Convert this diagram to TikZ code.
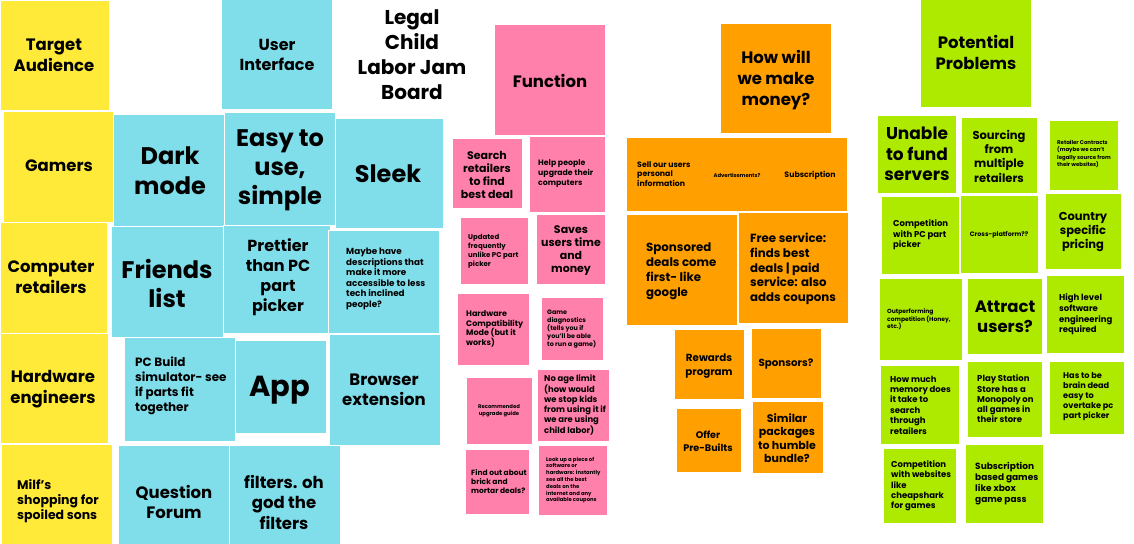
\documentclass[tikz,border=0pt]{standalone}
\usepackage{fontspec}
\setmainfont{Poppins}
\newcommand\fs[2]{\fontsize{#1}{#2}\selectfont\bfseries}
\definecolor{yel}{HTML}{FFEA3A}
\definecolor{cya}{HTML}{80DEEA}
\definecolor{pnk}{HTML}{FF80AB}
\definecolor{org}{HTML}{FF9F00}
\definecolor{grn}{HTML}{AEEA00}
\tikzset{
  sticky/.style={draw=white, line width=0.7pt},
  ctext/.style={inner sep=0pt, align=center, text=black},
  ltext/.style={inner sep=0pt, align=left, anchor=west, text=black}
}
\begin{document}
\begin{tikzpicture}[x=1pt,y=-1pt]
\useasboundingbox (0,0) rectangle (1134,543);
\fill[white] (0,0) rectangle (1134,543);

% ---- audience column
\filldraw[sticky,fill=yel] (0,0) rectangle (109,110);
\filldraw[sticky,fill=yel] (3,111) rectangle (113,222);
\filldraw[sticky,fill=yel] (0,222) rectangle (107,333);
\filldraw[sticky,fill=yel] (0,333) rectangle (108,443);
\filldraw[sticky,fill=yel] (1,444) rectangle (112,545);
\node[ctext,font=\fs{16.5}{21}] (ta) at (54,55) {Target\\Audience};
\node[ctext,font=\fs{16.5}{21}] (gm) at (59,166) {Gamers};
\node[ctext,font=\fs{16.5}{21}] (cr) at (51,277) {Computer\\retailers};
\node[ctext,font=\fs{16.5}{21}] (he) at (53,389) {Hardware\\engineers};
\node[ltext,font=\fs{12.5}{15}] (mf) at (17,501) {Milf's\\shopping for\\spoiled sons};

% ---- interface cluster
\filldraw[sticky,fill=cya] (221,-2) rectangle (332,109);
\filldraw[sticky,fill=cya] (113,114) rectangle (224,226);
\filldraw[sticky,fill=cya] (224,112) rectangle (335,225);
\filldraw[sticky,fill=cya] (335,118) rectangle (443,228);
\filldraw[sticky,fill=cya] (111,226) rectangle (223,337);
\filldraw[sticky,fill=cya] (223,225) rectangle (330,333);
\filldraw[sticky,fill=cya] (328,230) rectangle (439,333);
\filldraw[sticky,fill=cya] (124,337) rectangle (235,441);
\filldraw[sticky,fill=cya] (235,340) rectangle (326,433);
\filldraw[sticky,fill=cya] (329,334) rectangle (440,445);
\filldraw[sticky,fill=cya] (118,445) rectangle (229,545);
\filldraw[sticky,fill=cya] (229,445) rectangle (340,545);
\node[ctext,font=\fs{16}{20}] (ui) at (277,55) {User\\Interface};
\node[ctext,font=\fs{24}{30}] (dm) at (170,171) {Dark\\mode};
\node[ctext,font=\fs{24}{29}] (es) at (280,170) {Easy to\\use,\\simple};
\node[ctext,font=\fs{24}{29}] (sl) at (388,174) {Sleek};
\node[ctext,font=\fs{24}{29}] (fl) at (167,283) {Friends\\list};
\node[ctext,font=\fs{16}{20}] (pr) at (278,277) {Prettier\\than PC\\part\\picker};
\node[ltext,font=\fs{8.8}{10.5}] (mh) at (346,279) {Maybe have\\descriptions that\\make it more\\accessible to less\\tech inclined\\people?};
\node[ltext,font=\fs{12}{15}] (pb) at (135,386) {PC Build\\simulator- see\\if parts fit\\together};
\node[ctext,font=\fs{29}{30}] (ap) at (280,390) {App};
\node[ctext,font=\fs{16.5}{20}] (be) at (384,390) {Browser\\extension};
\node[ctext,font=\fs{16.5}{20}] (qf) at (174,502) {Question\\Forum};
\node[ctext,font=\fs{16.5}{20.5}] (fi) at (284,502) {filters. oh\\god the\\filters};

% ---- board title
\node[ctext,font=\fs{20}{25}] (title) at (412,55) {Legal\\Child\\Labor Jam\\Board};

% ---- function cluster
\filldraw[sticky,fill=pnk] (494,24) rectangle (605,135);
\filldraw[sticky,fill=pnk] (452,138) rectangle (522,208);
\filldraw[sticky,fill=pnk] (529,136) rectangle (605,212);
\filldraw[sticky,fill=pnk] (460,217) rectangle (528,284);
\filldraw[sticky,fill=pnk] (536,214) rectangle (605,284);
\filldraw[sticky,fill=pnk] (457,293) rectangle (529,365);
\filldraw[sticky,fill=pnk] (541,297) rectangle (603,360);
\filldraw[sticky,fill=pnk] (466,377) rectangle (532,444);
\filldraw[sticky,fill=pnk] (537,369) rectangle (609,441);
\filldraw[sticky,fill=pnk] (465,449) rectangle (529,514);
\filldraw[sticky,fill=pnk] (538,445) rectangle (607,515);
\node[ctext,font=\fs{16.5}{20}] (fn) at (550,81) {Function};
\node[ctext,font=\fs{11}{13.3}] (sr) at (487,175) {Search\\retailers\\to find\\best deal};
\node[ltext,font=\fs{7.8}{10}] (hp) at (538,174) {Help people\\upgrade their\\computers};
\node[ltext,font=\fs{7}{9}] (uf) at (468,251) {Updated\\frequently\\unlike PC part\\picker};
\node[ctext,font=\fs{11}{13}] (su) at (571,251) {Saves\\users time\\and\\money};
\node[ltext,font=\fs{8}{9.7}] (hc) at (466,329) {Hardware\\Compatibility\\Mode (but it\\works)};
\node[ltext,font=\fs{6.4}{8}] (gd) at (547,329) {Game\\diagnostics\\(tells you if\\you'll be able\\to run a game)};
\node[ctext,font=\fs{5.3}{7}] (rg) at (499,411) {Recommended\\upgrade guide};
\node[ltext,font=\fs{8.4}{9.9}] (na) at (544,405) {No age limit\\(how would\\we stop kids\\from using it if\\we are using\\child labor)};
\node[ltext,font=\fs{7.5}{9}] (fo) at (471,482) {Find out about\\brick and\\mortar deals?};
\node[ltext,font=\fs{5.3}{6.8}] (lu) at (546,480) {Look up a piece of\\software or\\hardware: instantly\\see all the best\\deals on the\\internet and any\\available coupons};

% ---- money cluster
\filldraw[sticky,fill=org] (720,23) rectangle (831,133);
\filldraw[sticky,fill=org] (626,137) rectangle (847,211);
\filldraw[sticky,fill=org] (626,214) rectangle (737,325);
\filldraw[sticky,fill=org] (738,212) rectangle (848,323);
\filldraw[sticky,fill=org] (674,329) rectangle (744,399);
\filldraw[sticky,fill=org] (751,328) rectangle (821,398);
\filldraw[sticky,fill=org] (676,408) rectangle (741,472);
\filldraw[sticky,fill=org] (752,401) rectangle (823,473);
\node[ctext,font=\fs{16.5}{21}] (hw) at (776,80) {How will\\we make\\money?};
\node[ltext,font=\fs{7.8}{9.6}] (so) at (637,174) {Sell our users\\personal\\information};
\node[ctext,font=\fs{5.3}{7}] (ad) at (737,175) {Advertisements?};
\node[ctext,font=\fs{7.8}{9.6}] (sb) at (810,175) {Subscription};
\node[ltext,font=\fs{11.8}{15}] (sd) at (646,271) {Sponsored\\deals come\\first- like\\google};
\node[ltext,font=\fs{11.8}{14.8}] (fs) at (750,269) {Free service:\\finds best\\deals | paid\\service: also\\adds coupons};
\node[ctext,font=\fs{10.3}{13.3}] (rp) at (709,366) {Rewards\\program};
\node[ctext,font=\fs{10.3}{13.3}] (sp) at (786,364) {Sponsors?};
\node[ctext,font=\fs{9.6}{13}] (op) at (708,441) {Offer\\Pre-Builts};
\node[ctext,font=\fs{11}{13.5}] (sm) at (787,438) {Similar\\packages\\to humble\\bundle?};

% ---- problems cluster
\filldraw[sticky,fill=grn] (920,-2) rectangle (1031,107);
\filldraw[sticky,fill=grn] (877,115) rectangle (956,193);
\filldraw[sticky,fill=grn] (961,117) rectangle (1037,193);
\filldraw[sticky,fill=grn] (1049,120) rectangle (1118,190);
\filldraw[sticky,fill=grn] (881,196) rectangle (959,274);
\filldraw[sticky,fill=grn] (960,195) rectangle (1038,273);
\filldraw[sticky,fill=grn] (1045,193) rectangle (1121,269);
\filldraw[sticky,fill=grn] (879,278) rectangle (962,360);
\filldraw[sticky,fill=grn] (967,278) rectangle (1042,354);
\filldraw[sticky,fill=grn] (1046,275) rectangle (1124,353);
\filldraw[sticky,fill=grn] (880,365) rectangle (959,444);
\filldraw[sticky,fill=grn] (967,361) rectangle (1042,437);
\filldraw[sticky,fill=grn] (1049,361) rectangle (1124,434);
\filldraw[sticky,fill=grn] (883,448) rectangle (956,523);
\filldraw[sticky,fill=grn] (965,444) rectangle (1043,523);
\node[ctext,font=\fs{16.5}{21}] (pp) at (976,52) {Potential\\Problems};
\node[ctext,font=\fs{17}{20.5}] (uf2) at (917,154) {Unable\\to fund\\servers};
\node[ctext,font=\fs{11.5}{14.3}] (sc) at (999,156) {Sourcing\\from\\multiple\\retailers};
\node[ltext,font=\fs{5.4}{7.4}] (rc) at (1057,154) {Retailer Contracts\\(maybe we can't\\legally source from\\their websites)};
\node[ltext,font=\fs{8.5}{10.5}] (cp) at (893,235) {Competition\\with PC part\\picker};
\node[ctext,font=\fs{6.4}{8}] (xp) at (999,235) {Cross-platform??};
\node[ctext,font=\fs{11.5}{14}] (cs) at (1083,232) {Country\\specific\\pricing};
\node[ltext,font=\fs{6}{7.6}] (oc) at (887,319.5) {Outperforming\\competition (Honey,\\etc.)};
\node[ctext,font=\fs{16.5}{19.5}] (au) at (1005,317) {Attract\\users?};
\node[ltext,font=\fs{8.5}{10.7}] (hl) at (1059,314.5) {High level\\software\\engineering\\required};
\node[ltext,font=\fs{8.5}{10.4}] (hm) at (890,405) {How much\\memory does\\it take to\\search\\through\\retailers};
\node[ltext,font=\fs{8.5}{10.3}] (ps) at (977,399) {Play Station\\Store has a\\Monopoly on\\all games in\\their store};
\node[ltext,font=\fs{8.2}{10}] (hb) at (1063,397) {Has to be\\brain dead\\easy to\\overtake pc\\part picker};
\node[ltext,font=\fs{8.5}{10.3}] (cw) at (891,486) {Competition\\with websites\\like\\cheapshark\\for games};
\node[ltext,font=\fs{9}{11}] (sg) at (975,484) {Subscription\\based games\\like xbox\\game pass};
\end{tikzpicture}
\end{document}
